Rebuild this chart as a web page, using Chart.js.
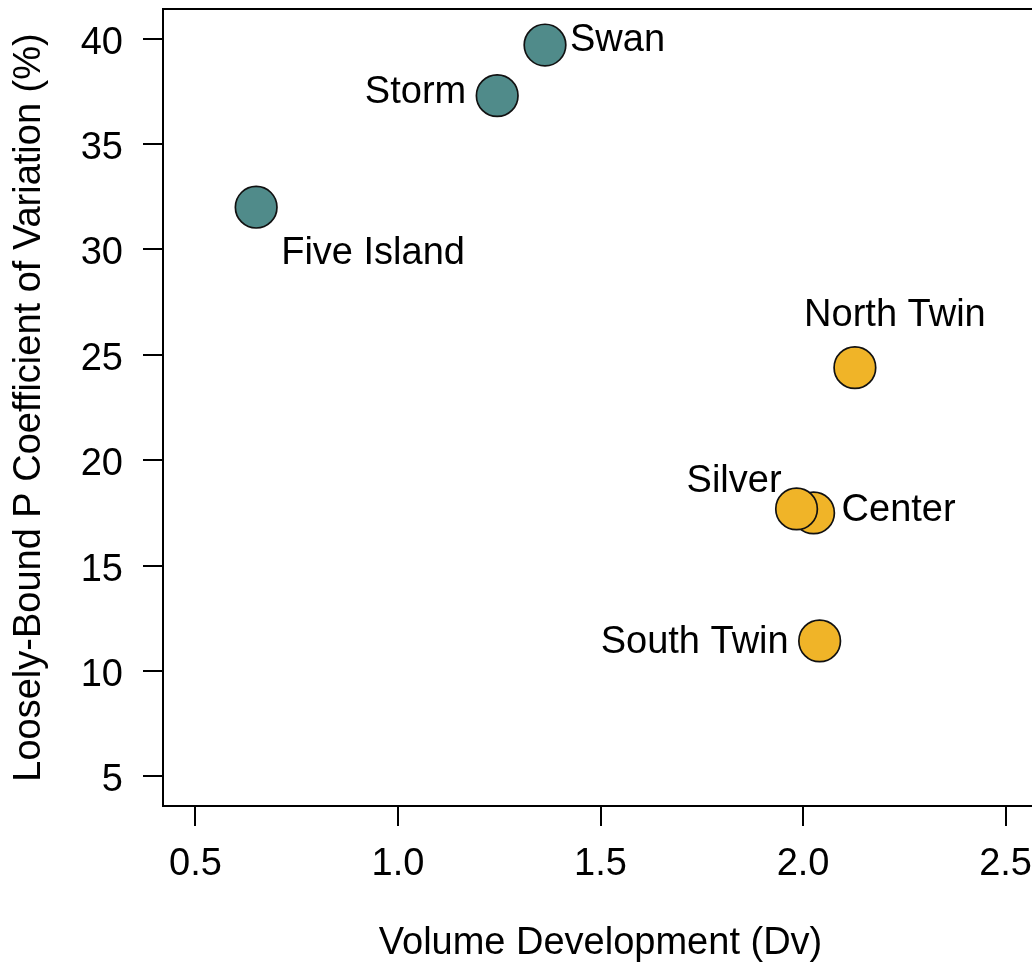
<!DOCTYPE html>
<html>
<head>
<meta charset="utf-8">
<script src="https://cdn.jsdelivr.net/npm/chart.js@4.4.1/dist/chart.umd.min.js"></script>
<style>
  html, body { margin: 0; padding: 0; background: #ffffff; overflow: hidden; }
  #wrap { width: 1100px; height: 964px; }
</style>
</head>
<body>
<div id="wrap"><canvas id="c" width="1100" height="964"></canvas></div>
<script>
// ---- data ----
const lakes = ['Five Island', 'Storm', 'Swan', 'North Twin', 'Center', 'Silver', 'South Twin'];
const volumeDevelopment = [0.650, 1.245, 1.363, 2.128, 2.026, 1.984, 2.041];
const coefVariation = [32.0, 37.29, 39.69, 24.39, 17.50, 17.69, 11.43];
const lakeGroup = ['teal', 'teal', 'teal', 'gold', 'gold', 'gold', 'gold'];
const xTickValues = [0.5, 1.0, 1.5, 2.0, 2.5];
const yTickValues = [5, 10, 15, 20, 25, 30, 35, 40];
const xTitle = 'Volume Development (Dv)';
const yTitle = 'Loosely-Bound P Coefficient of Variation (%)';

// ---- styling / label placement (pixel offsets from each point) ----
const groupColors = { teal: '#508b8a', gold: '#f0b428' };
const labelPlacement = {
  'Five Island': { dx: 25, dy: 44, align: 'left' },
  'Storm':       { dx: -31, dy: -5, align: 'right' },
  'Swan':        { dx: 25, dy: -7, align: 'left' },
  'North Twin':  { dx: 40, dy: -54, align: 'center' },
  'Center':      { dx: 28, dy: -4, align: 'left' },
  'Silver':      { dx: -15, dy: -29, align: 'right' },
  'South Twin':  { dx: -31, dy: 0, align: 'right' }
};
const FONT = 'Liberation Sans, Arial, Helvetica, sans-serif';
const FS = 38;
const FS_TITLE = 38;

function groupData(g) {
  const out = [];
  lakes.forEach((name, i) => {
    if (lakeGroup[i] === g) out.push({ x: volumeDevelopment[i], y: coefVariation[i], name: name });
  });
  return out;
}

const datasets = Object.keys(groupColors).map(g => ({
  label: g,
  data: groupData(g),
  backgroundColor: groupColors[g],
  borderColor: '#111111',
  borderWidth: 1.7,
  pointRadius: 20.8,
  pointHoverRadius: 20.8,
  showLine: false
}));

const framePlugin = {
  id: 'frame',
  beforeDatasetsDraw(chart) {
    const { ctx, chartArea: a } = chart;
    ctx.save();
    ctx.strokeStyle = '#000';
    ctx.lineWidth = 2;
    ctx.beginPath();
    ctx.moveTo(a.left, a.top);
    ctx.lineTo(a.right, a.top);
    ctx.lineTo(a.right, a.bottom);
    ctx.stroke();
    ctx.restore();
  }
};

const labelPlugin = {
  id: 'pointLabels',
  afterDatasetsDraw(chart) {
    const ctx = chart.ctx;
    ctx.save();
    ctx.font = FS + 'px ' + FONT;
    ctx.fillStyle = '#000';
    ctx.textBaseline = 'middle';
    chart.data.datasets.forEach((ds, di) => {
      const meta = chart.getDatasetMeta(di);
      meta.data.forEach((el, i) => {
        const name = ds.data[i].name;
        const p = labelPlacement[name];
        ctx.textAlign = p.align;
        ctx.fillText(name, el.x + p.dx, el.y + p.dy + 2);
      });
    });
    ctx.restore();
  }
};

new Chart(document.getElementById('c'), {
  type: 'scatter',
  data: { datasets },
  options: {
    responsive: false,
    animation: false,
    events: [],
    layout: { autoPadding: false, padding: { top: 9, right: 62, left: 0, bottom: 0 } },
    plugins: { legend: { display: false }, tooltip: { enabled: false } },
    scales: {
      x: {
        type: 'linear',
        min: 0.42,
        max: 2.58,
        afterBuildTicks: s => { s.ticks = xTickValues.map(v => ({ value: v })); },
        afterFit: s => { s.height = 158; s.paddingLeft = 0; s.paddingRight = 0; },
        ticks: {
          autoSkip: false, maxRotation: 0, minRotation: 0,
          color: '#000', padding: 15.5,
          font: { family: FONT, size: FS, lineHeight: 1.2 },
          callback: v => Number(v).toFixed(1)
        },
        grid: { drawOnChartArea: false, drawTicks: true, tickLength: 20, color: '#000', lineWidth: 2, tickWidth: 2, tickColor: '#000' },
        border: { display: true, color: '#000', width: 2 },
        title: { display: true, text: xTitle, color: '#000', font: { family: FONT, size: FS_TITLE, lineHeight: 1 }, padding: { top: 0, bottom: 1 } }
      },
      y: {
        type: 'linear',
        min: 3.6,
        max: 41.4,
        afterBuildTicks: s => { s.ticks = yTickValues.map(v => ({ value: v })); },
        afterFit: s => { s.width = 163; s.paddingTop = 0; s.paddingBottom = 0; },
        ticks: {
          autoSkip: false, color: '#000', padding: 20, labelOffset: 4.5,
          font: { family: FONT, size: FS, lineHeight: 0.45 },
          callback: v => String(v)
        },
        grid: { drawOnChartArea: false, drawTicks: true, tickLength: 20, color: '#000', lineWidth: 2, tickWidth: 2, tickColor: '#000' },
        border: { display: true, color: '#000', width: 2 },
        title: { display: true, text: yTitle, color: '#000', font: { family: FONT, size: FS_TITLE, lineHeight: 1 }, padding: { top: 11, bottom: 0 } }
      }
    }
  },
  plugins: [framePlugin, labelPlugin]
});
</script>
</body>
</html>
